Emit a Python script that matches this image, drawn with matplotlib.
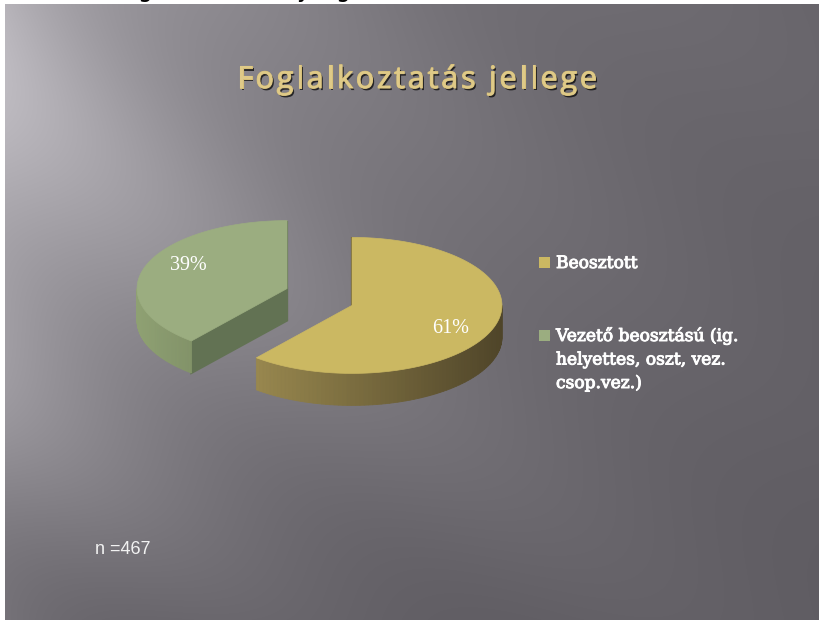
import numpy as np
import matplotlib
matplotlib.use("Agg")
import matplotlib.pyplot as plt
from matplotlib.patches import Polygon, Rectangle
from matplotlib.font_manager import FontProperties
import matplotlib.patheffects as pe

# data
categories = ["Beosztott", "Vezető beosztású (ig.\nhelyettes, oszt, vez.\ncsop.vez.)"]
shares = [61, 39]
pct_labels = ["61%", "39%"]
top_colors = ["#cbb862", "#9bad80"]
wall_light = [(0.66, 0.59, 0.34), (0.56, 0.63, 0.45)]
wall_dark = [(0.31, 0.27, 0.16), (0.30, 0.35, 0.24)]
cut_colors = ["#5e5330", "#627253"]
title = "Foglalkoztatás jellege"
note = "n =467"

W, H = 820, 622
fig = plt.figure(figsize=(8.2, 6.22), dpi=100)
ax = fig.add_axes([0, 0, 1, 1])
ax.set_xlim(0, W)
ax.set_ylim(H, 0)
ax.axis("off")
fig.patch.set_facecolor("white")

# bits of the cropped caption above the slide
for ch, x in [("g", 138), ("y", 296), ("g", 336)]:
    ax.text(x, -3, ch, fontsize=17, color="black", va="baseline", zorder=0)

# slide background: grey gradient with soft diagonal light streaks
x0, y0, x1, y1 = 5, 4, 819, 620
xx, yy = np.meshgrid(np.arange(x1 - x0), np.arange(y1 - y0))
base = 92 + 86 * np.exp(-xx / 390.0) * np.exp(-(yy / 580.0) ** 3)
th = np.deg2rad(38)
p = -xx * np.sin(th) + yy * np.cos(th)
base += 7 * np.sin(p / 40.0) * np.exp(-xx / 420.0)
base += 5 * np.sin(p / 85.0 + 1.0) * np.exp(-xx / 650.0)
img = np.dstack([base, base - 3, base + 3]) / 255.0
ax.imshow(np.clip(img, 0, 1), extent=(x0, x1, y1, y0), aspect="auto", zorder=1,
          interpolation="bilinear")

# exploded 3D pie
pcx, pcy = 319.5, 297
rx, ry = 150, 68
depth = 32
explode = 34.5
tilt = 0.72


def arc(cx, cy, a0, a1, n=120):
    a = np.deg2rad(np.linspace(a0, a1, n))
    return np.column_stack([cx + rx * np.cos(a), cy - ry * np.sin(a)])


start = 90.0
slices = []
for i, v in enumerate(shares):
    sweep = 360.0 * v / sum(shares)
    a0, a1 = start, start - sweep
    mid = np.deg2rad((a0 + a1) / 2)
    cx = pcx + explode * np.cos(mid)
    cy = pcy - explode * tilt * np.sin(mid)
    slices.append((i, a0, a1, cx, cy, mid))
    start = a1

# draw back slice (green) first, then front one
for i, a0, a1, cx, cy, mid in sorted(slices, key=lambda s: s[4]):
    lo, hi = min(a0, a1), max(a0, a1)
    # cut faces that look towards the viewer
    for a, nrm in ((a0, a0 + 90), (a1, a1 - 90)):
        if np.sin(np.deg2rad(nrm)) > 0.01:
            continue
        e = arc(cx, cy, a, a, 1)[0]
        face = np.array([[cx, cy], e, e + [0, depth], [cx, cy + depth]])
        ax.add_patch(Polygon(face, closed=True, fc=cut_colors[i], ec=cut_colors[i],
                             lw=1.5, zorder=3))
    # outer wall, front half only
    for k in range(-1, 2):
        wlo, whi = max(lo, -180 + 360 * k), min(hi, 360 * k)
        if whi <= wlo:
            continue
        angs = np.linspace(wlo, whi, 80)
        for j in range(len(angs) - 1):
            pts = arc(cx, cy, angs[j], angs[j + 1], 2)
            quad = np.vstack([pts, pts[::-1] + [0, depth]])
            t = (np.cos(np.deg2rad((angs[j] + angs[j + 1]) / 2)) + 1) / 2
            col = tuple(np.array(wall_light[i]) * (1 - t) + np.array(wall_dark[i]) * t)
            ax.add_patch(Polygon(quad, closed=True, fc=col, ec=col, lw=0.6, zorder=3))
    # top face
    top = np.vstack([[cx, cy], arc(cx, cy, a0, a1)])
    ax.add_patch(Polygon(top, closed=True, fc=top_colors[i], ec=top_colors[i],
                         lw=0.5, zorder=4))
    ax.text(cx + 0.7 * rx * np.cos(mid), cy - 1.0 * ry * np.sin(mid), pct_labels[i],
            fontsize=14.5, color="white", family="Liberation Serif",
            ha="center", va="center", zorder=5)

# title with letter spacing
renderer = fig.canvas.get_renderer()
fp = FontProperties(family="Open Sans", size=22)


def tw(s):
    return renderer.get_text_width_height_descent(s, fp, ismath=False)[0]


widths = [tw(c) if c != " " else tw("a a") - tw("aa") for c in title]
target = 360
gap = (target - sum(widths)) / (len(title) - 1)
tx = 237
for c, w in zip(title, widths):
    ax.text(tx, 88, c, fontproperties=fp, color="#dfca88", va="baseline", ha="left",
            zorder=6,
            path_effects=[pe.withSimplePatchShadow(offset=(1.2, -1.5),
                                                   shadow_rgbFace="black", alpha=0.7),
                          pe.withStroke(linewidth=0.8, foreground="#d6bf78")])
    tx += w + gap

# legend
thick = [pe.withStroke(linewidth=0.7, foreground="white")]
ax.add_patch(Rectangle((539, 256.5), 11, 11, fc=top_colors[0], ec="none", zorder=5))
ax.text(556, 268, categories[0], fontsize=12.3, family="DejaVu Serif", color="white",
        va="baseline", ha="left", zorder=5, path_effects=thick)
ax.add_patch(Rectangle((539, 329.5), 11, 11, fc=top_colors[1], ec="none", zorder=5))
for k, line in enumerate(categories[1].split("\n")):
    ax.text(556, 341 + 23.5 * k, line, fontsize=12.3, family="DejaVu Serif",
            color="white", va="baseline", ha="left", zorder=5, path_effects=thick)

ax.text(95, 554, note, fontsize=13, family="Liberation Sans", color="#f2f2f2",
        va="baseline", ha="left", zorder=5)

fig.savefig("out.png", dpi=100)
